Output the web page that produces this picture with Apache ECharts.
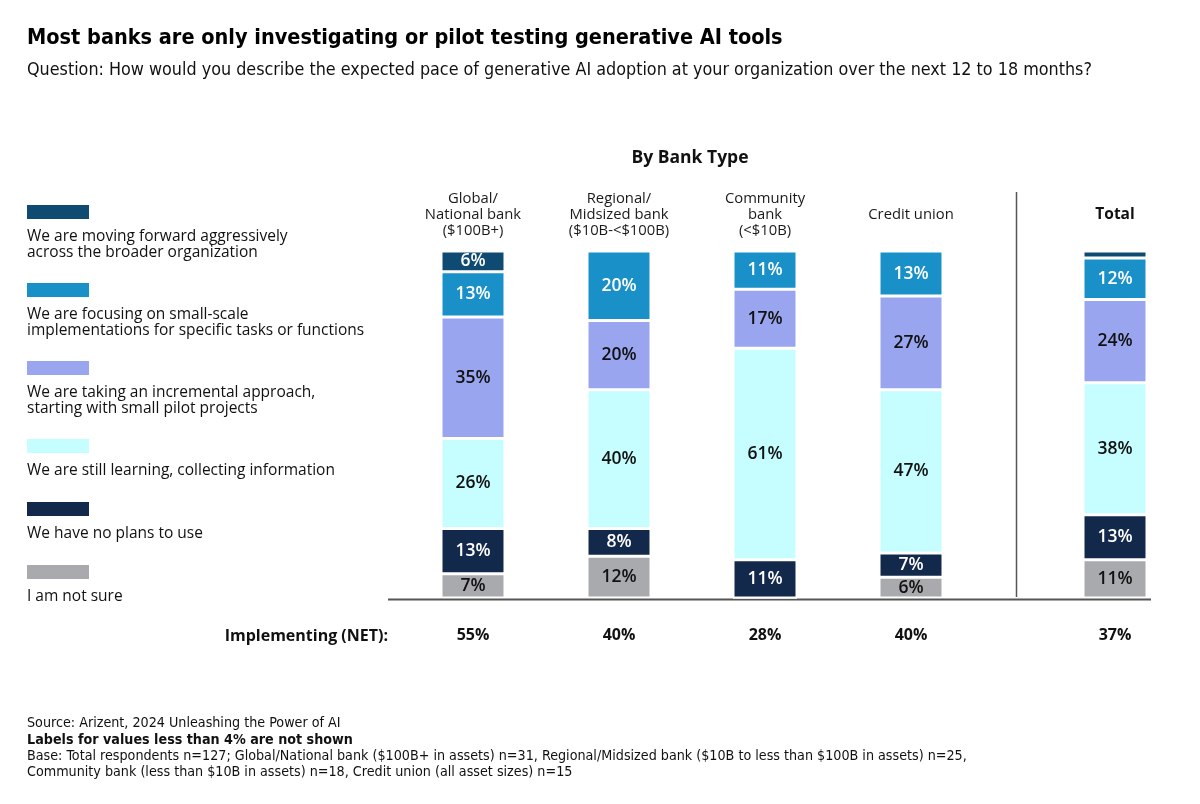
<!DOCTYPE html>
<html>
<head>
<meta charset="utf-8">
<script src="https://cdn.jsdelivr.net/npm/echarts@6/dist/echarts.min.js"></script>
<style>html,body{margin:0;padding:0;background:#fff}#chart{width:1200px;height:804px}</style>
</head>
<body>
<div id="chart"></div>
<script>
// ---- data ----
const categories = ['Global/\nNational bank\n($100B+)', 'Regional/\nMidsized bank\n($10B-<$100B)', 'Community\nbank\n(<$10B)', 'Credit union'];
const totalCategory = ['Total'];
const seriesNames = [
  'We are moving forward aggressively\nacross the broader organization',
  'We are focusing on small-scale\nimplementations for specific tasks or functions',
  'We are taking an incremental approach,\nstarting with small pilot projects',
  'We are still learning, collecting information',
  'We have no plans to use',
  'I am not sure'
];
// last value of each array = Total
const aggressive  = [6, 0, 0, 0, 2];
const focusing    = [13, 20, 11, 13, 12];
const incremental = [35, 20, 17, 27, 24];
const learning    = [26, 40, 61, 47, 38];
const noPlans     = [13, 8, 11, 7, 13];
const notSure     = [7, 12, 0, 6, 11];
const netValues   = [55, 40, 28, 40, 37];

const colors = ['#0f4a72', '#1a90c9', '#99a6ef', '#c6fdff', '#13294b', '#a9aaae'];
const labelColors = ['#fff', '#fff', '#111', '#111', '#fff', '#111'];
const valueSets = [aggressive, focusing, incremental, learning, noPlans, notSure];

const SANS = "'Open Sans', 'Noto Sans', sans-serif";
const NARROW = "'DejaVu Sans Condensed', 'Roboto', sans-serif";

const chart = echarts.init(document.getElementById('chart'));

// stack from bottom: notSure first
const order = [5, 4, 3, 2, 1, 0];
const series = [];
order.forEach(i => {
  const common = {
    name: seriesNames[i],
    type: 'bar',
    barWidth: 64,
    itemStyle: { color: colors[i], borderColor: '#fff', borderWidth: 1.5 },
    label: {
      show: true, position: 'inside', color: labelColors[i],
      fontFamily: SANS, fontSize: 17.5, fontWeight: 600,
      formatter: p => (p.value >= 4 ? p.value + '%' : '')
    },
    emphasis: { disabled: true }
  };
  series.push(Object.assign({}, common, {
    stack: 'bank', xAxisIndex: 0, yAxisIndex: 0, data: valueSets[i].slice(0, 4)
  }));
  series.push(Object.assign({}, common, {
    stack: 'total', xAxisIndex: 2, yAxisIndex: 1, data: valueSets[i].slice(4)
  }));
});

// legend drawn as graphics from seriesNames/colors
const graphic = [];
let ly = 205;
seriesNames.forEach((name, i) => {
  const lines = name.split('\n').length;
  graphic.push({ type: 'rect', left: 27, top: ly, shape: { width: 62, height: 14 }, style: { fill: colors[i] } });
  graphic.push({ type: 'text', left: 27, top: ly + 24, style: { text: name, fontFamily: SANS, fontSize: 15.5, lineHeight: 15.5, fill: '#111' } });
  ly += 32 + 15 * (lines - 1) + 31;
});
graphic.push({ type: 'line', shape: { x1: 388, y1: 599.5, x2: 1151, y2: 599.5 }, style: { stroke: '#555', lineWidth: 2 } });
graphic.push({ type: 'line', shape: { x1: 1016.5, y1: 192, x2: 1016.5, y2: 597 }, style: { stroke: '#555', lineWidth: 1.5 } });
graphic.push({ type: 'text', x: 388, y: 636, style: { text: 'Implementing (NET):', textAlign: 'right', textVerticalAlign: 'middle', fontFamily: SANS, fontSize: 16, fontWeight: 'bold', fill: '#111' } });

const axisHidden = { show: false };
const catLabelTop = { show: true, interval: 0, fontFamily: SANS, fontSize: 14.8, lineHeight: 16, color: '#1a1a1a', margin: 36, verticalAlign: 'middle' };
const netLabel = { show: true, interval: 0, fontFamily: SANS, fontSize: 16, fontWeight: 'bold', color: '#111', margin: 37, verticalAlign: 'middle' };

const option = {
  animation: false,
  backgroundColor: '#fff',
  title: [
    { text: 'Most banks are only investigating or pilot testing generative AI tools', left: 27, top: 27, padding: 0,
      textStyle: { fontFamily: NARROW, fontSize: 21.5, fontWeight: 'bold', color: '#000' } },
    { text: 'Question: How would you describe the expected pace of generative AI adoption at your organization over the next 12 to 18 months?', left: 27, top: 61, padding: 0,
      textStyle: { fontFamily: NARROW, fontSize: 17.8, fontWeight: 'normal', color: '#111' } },
    { text: 'By Bank Type', left: 690, textAlign: 'center', top: 149, padding: 0,
      textStyle: { fontFamily: SANS, fontSize: 17.5, fontWeight: 'bold', color: '#111' } },
    { text: 'Source: Arizent, 2024 Unleashing the Power of AI', left: 27, top: 716, padding: 0,
      textStyle: { fontFamily: NARROW, fontSize: 14.2, fontWeight: 'normal', color: '#111' } },
    { text: 'Labels for values less than 4% are not shown', left: 27, top: 733, padding: 0,
      textStyle: { fontFamily: NARROW, fontSize: 14.2, fontWeight: 'bold', color: '#111' } },
    { text: 'Base: Total respondents n=127; Global/National bank ($100B+ in assets) n=31, Regional/Midsized bank ($10B to less than $100B in assets) n=25,\nCommunity bank (less than $10B in assets) n=18, Credit union (all asset sizes) n=15', left: 27, top: 748, padding: 0,
      textStyle: { fontFamily: NARROW, fontSize: 14.2, lineHeight: 16.5, fontWeight: 'normal', color: '#111' } }
  ],
  grid: [
    { left: 400, top: 251, width: 584, height: 347 },
    { left: 1042, top: 251, width: 146, height: 347 }
  ],
  xAxis: [
    { type: 'category', gridIndex: 0, position: 'top', data: categories, axisLine: axisHidden, axisTick: axisHidden, axisLabel: catLabelTop },
    { type: 'category', gridIndex: 0, position: 'bottom', data: netValues.slice(0, 4), axisLine: axisHidden, axisTick: axisHidden,
      axisLabel: Object.assign({}, netLabel, { formatter: v => v + '%' }) },
    { type: 'category', gridIndex: 1, position: 'top', data: totalCategory, axisLine: axisHidden, axisTick: axisHidden,
      axisLabel: Object.assign({}, catLabelTop, { fontWeight: 'bold', color: '#111', fontSize: 15.5 }) },
    { type: 'category', gridIndex: 1, position: 'bottom', data: netValues.slice(4), axisLine: axisHidden, axisTick: axisHidden,
      axisLabel: Object.assign({}, netLabel, { formatter: v => v + '%' }) }
  ],
  yAxis: [
    { type: 'value', gridIndex: 0, min: 0, max: 100, show: false },
    { type: 'value', gridIndex: 1, min: 0, max: 100, show: false }
  ],
  graphic: graphic,
  series: series
};
chart.setOption(option);
</script>
</body>
</html>
